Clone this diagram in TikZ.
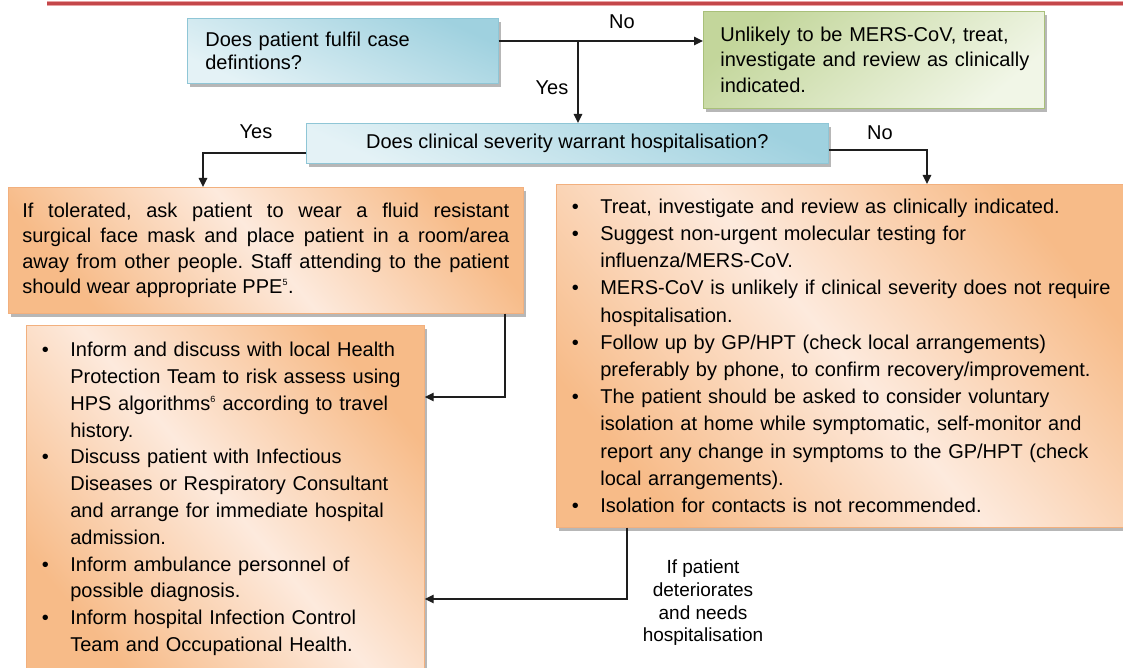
\documentclass[tikz,border=0pt]{standalone}
\usepackage{fontspec}
\setmainfont{Liberation Sans}
\usetikzlibrary{arrows.meta,shadows}
\definecolor{bluedark}{HTML}{9FD1DF}
\definecolor{bluelight}{HTML}{E4F2F6}
\definecolor{blueborder}{HTML}{8FC6D6}
\definecolor{greendark}{HTML}{C3D69B}
\definecolor{greenlight}{HTML}{F1F6E7}
\definecolor{greenborder}{HTML}{A9C07A}
\definecolor{orangedark}{HTML}{F7BB88}
\definecolor{orangelight}{HTML}{FDEADD}
\definecolor{orangeborder}{HTML}{F2B07E}
\definecolor{redrule}{HTML}{C4474A}
\definecolor{redpale}{HTML}{E9A2A3}
\definecolor{linegray}{HTML}{1E1E1E}
\newcommand\bul{\makebox[28.5pt][l]{\textbullet}}
\newcommand\cnt{\hspace*{28.5pt}}
\frenchspacing
\begin{document}
\begin{tikzpicture}[x=1pt,y=-1pt,
  font=\fontsize{20}{26}\selectfont\frenchspacing,
  boxbase/.style={anchor=north west, line width=0.7pt, inner ysep=0pt,
    drop shadow={shadow xshift=3pt, shadow yshift=-3.5pt, fill=black!40, opacity=0.7}},
  bluebox/.style={boxbase, draw=blueborder, top color=bluedark, bottom color=bluelight, shading angle=-25},
  greenbox/.style={boxbase, draw=greenborder, top color=greendark, bottom color=greenlight, shading angle=40},
  orangebox/.style={boxbase, draw=orangeborder, top color=orangedark, bottom color=orangedark, middle color=orangelight, shading angle=-50},
  arr/.style={draw=linegray, line width=1.4pt, -{Triangle[length=9pt,width=8.5pt]}},
  lbl/.style={inner sep=0pt, text=black}
]
\useasboundingbox (0,0) rectangle (1123,668);

% top rule
\draw[redpale, line width=5pt] (47,3.5) -- (1123,3.5);
\draw[redrule, line width=2.6pt] (47,3.5) -- (1123,3.5);

% boxes
\node[bluebox, minimum width=311pt, minimum height=65pt, inner xsep=18pt, text width=275pt, align=left,
  font=\fontsize{20}{22.5}\selectfont] (b1) at (187,18)
  {Does patient fulfil case\\defintions?};
\node[greenbox, minimum width=341pt, minimum height=97pt, inner xsep=17pt, text width=307pt, align=left,
  font=\fontsize{20}{25.5}\selectfont] (green) at (703,11)
  {\mbox{Unlikely to be MERS-CoV, treat,}\\\mbox{investigate and review as clinically}\\\mbox{indicated.}};
\node[bluebox, minimum width=522pt, minimum height=40pt, inner xsep=0pt] (b2) at (306,123)
  {Does clinical severity warrant hospitalisation?};
\node[orangebox, minimum width=515pt, minimum height=126pt, inner xsep=14pt, text width=487pt, align=justify,
  font=\fontsize{20}{25.3}\selectfont] (b3) at (8,187)
  {If tolerated, ask patient to wear a fluid resistant\linebreak surgical face mask and place patient in a room/area\linebreak away from other people. Staff attending to the patient\linebreak should wear appropriate PPE\textsuperscript{\fontsize{9}{9}\selectfont 5}.};
\node[orangebox, minimum width=574pt, minimum height=343pt, inner xsep=15.5pt, text width=543pt, align=left,
  font=\fontsize{20}{27.2}\selectfont] (b4) at (556,184)
  {\bul Treat, investigate and review as clinically indicated.\\
   \bul Suggest non-urgent molecular testing for\\
   \cnt influenza/MERS-CoV.\\
   \bul MERS-CoV is unlikely if clinical severity does not require\\
   \cnt hospitalisation.\\
   \bul Follow up by GP/HPT (check local arrangements)\\
   \cnt preferably by phone, to confirm recovery/improvement.\\
   \bul The patient should be asked to consider voluntary\\
   \cnt isolation at home while symptomatic, self-monitor and\\
   \cnt report any change in symptoms to the GP/HPT (check\\
   \cnt local arrangements).\\
   \bul Isolation for contacts is not recommended.};
\node[orangebox, minimum width=398pt, minimum height=347pt, inner xsep=15.5pt, text width=367pt, align=left,
  font=\fontsize{20}{26.8}\selectfont] (b5) at (26,325)
  {\bul Inform and discuss with local Health\\
   \cnt Protection Team to risk assess using\\
   \cnt HPS algorithms\textsuperscript{\fontsize{9}{9}\selectfont 6} according to travel\\
   \cnt history.\\
   \bul Discuss patient with Infectious\\
   \cnt Diseases or Respiratory Consultant\\
   \cnt and arrange for immediate hospital\\
   \cnt admission.\\
   \bul Inform ambulance personnel of\\
   \cnt possible diagnosis.\\
   \bul Inform hospital Infection Control\\
   \cnt Team and Occupational Health.};

% junction coordinates
\coordinate (j1) at (578,41);
\coordinate (c2) at (203,153);
\coordinate (c3) at (927,150);
\coordinate (c4) at (505,397);
\coordinate (c5) at (627,599);

% connectors
\draw[arr] (b1.east |- j1) -- (green.west |- j1);
\draw[arr] (j1) -- (j1 |- b2.north);
\draw[arr] (b2.west |- c2) -| (b3.north -| c2);
\draw[arr] (b2.east |- c3) -| (b4.north -| c3);
\draw[arr] (b3.south -| c4) |- (b5.east |- c4);
\draw[arr] (b4.south -| c5) |- (b5.east |- c5);

% labels
\node[lbl] (lno1) at (622,22) {No};
\node[lbl] (lyes1) at (552,88) {Yes};
\node[lbl] (lyes2) at (256,132) {Yes};
\node[lbl] (lno2) at (880,133) {No};
\node[lbl, align=center, font=\fontsize{19}{22.7}\selectfont] (ldet) at (703,603)
  {If patient\\deteriorates\\and needs\\hospitalisation};
\end{tikzpicture}
\end{document}
